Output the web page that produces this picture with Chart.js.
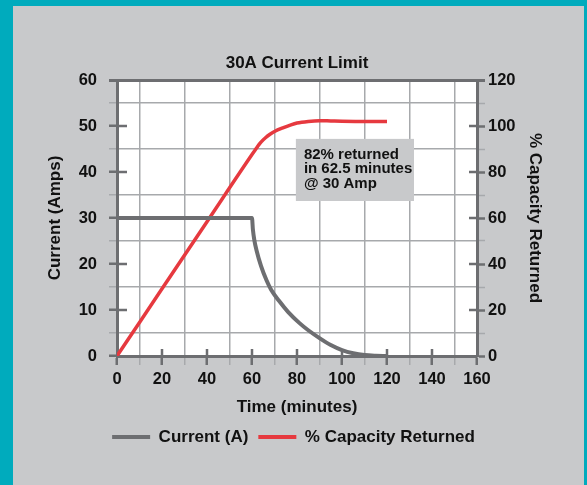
<!DOCTYPE html>
<html>
<head>
<meta charset="utf-8">
<script src="https://cdn.jsdelivr.net/npm/chart.js@4.4.1/dist/chart.umd.min.js"></script>
<style>
  html, body { margin: 0; padding: 0; width: 587px; height: 485px; overflow: hidden; background: #00abbd; }
  #panel { position: absolute; left: 13px; top: 6px; width: 571px; height: 479px; background: #c8c9cb; }
  #c { position: absolute; left: 0; top: 0; }
</style>
</head>
<body>
<div id="panel"></div>
<canvas id="c" width="587" height="485"></canvas>
<script>
// ---- Data ----
const chartTitle = '30A Current Limit';
const xTitle = 'Time (minutes)';
const yLeftTitle = 'Current (Amps)';
const yRightTitle = '% Capacity Returned';
const seriesNames = ['Current (A)', '% Capacity Returned'];

const currentTime = [0, 60, 60.4, 61, 62, 64, 66.5, 68.5, 72, 76, 81, 85, 90, 95, 100, 105, 110, 115, 120];
const currentAmps = [30, 30, 27.5, 25.3, 23, 19.6, 16.4, 14.4, 12, 9.6, 7.2, 5.6, 3.9, 2.4, 1.3, 0.6, 0.2, 0.05, 0];

const capTime = [0, 20, 40, 60, 62, 63, 64, 66, 68, 70, 74, 77, 80, 85, 90, 95, 100, 110, 120];
const capPct  = [0, 29.2, 58.4, 87.6, 90.4, 91.8, 93, 94.9, 96.4, 97.6, 99.3, 100.4, 101.3, 102, 102.3, 102.2, 102.1, 102, 102];

const noteLines = ['82% returned', 'in 62.5 minutes', '@ 30 Amp'];
const noteBox = { xMin: 79.5, xMax: 132, yMin: 33.7, yMax: 47.2 };

// ---- Styles ----
const DARK = '#6d6e71';
const LIGHT = '#a7a9ac';
const RED = '#e6393f';
const TEXT = '#111111';
const FAM = '"Liberation Sans", Arial, Helvetica, sans-serif';
const NONE = 'rgba(0,0,0,0)';

const zip = (xs, ys) => xs.map((x, i) => ({ x: x, y: ys[i] }));

const bgPlugin = {
  id: 'bg',
  beforeDraw(chart) {
    const { ctx, chartArea: a } = chart;
    ctx.save();
    ctx.fillStyle = '#ffffff';
    ctx.fillRect(a.left, a.top, a.right - a.left, a.bottom - a.top);
    ctx.restore();
  }
};

const innerTicks = {
  id: 'innerTicks',
  beforeDatasetsDraw(chart) {
    const { ctx, chartArea: a, scales } = chart;
    ctx.save();
    ctx.strokeStyle = DARK;
    ctx.lineWidth = 2.5;
    ctx.beginPath();
    scales.x.ticks.forEach(t => {
      if (t.value % 20 === 0 && t.value > 0 && t.value < 160) {
        const px = scales.x.getPixelForValue(t.value);
        ctx.moveTo(px, a.bottom); ctx.lineTo(px, a.bottom - 7);
      }
    });
    scales.y.ticks.forEach(t => {
      if (t.value % 10 === 0 && t.value > 0 && t.value < 60) {
        const py = scales.y.getPixelForValue(t.value);
        ctx.moveTo(a.left, py); ctx.lineTo(a.left + 10, py);
      }
    });
    scales.y1.ticks.forEach(t => {
      if (t.value % 20 === 0 && t.value > 0 && t.value < 120) {
        const py = scales.y1.getPixelForValue(t.value);
        ctx.moveTo(a.right, py); ctx.lineTo(a.right - 8, py);
      }
    });
    ctx.stroke();
    ctx.restore();
  }
};

const notePlugin = {
  id: 'note',
  afterDatasetsDraw(chart) {
    const { ctx, scales } = chart;
    const l = scales.x.getPixelForValue(noteBox.xMin);
    const r = scales.x.getPixelForValue(noteBox.xMax);
    const t = scales.y.getPixelForValue(noteBox.yMax);
    const b = scales.y.getPixelForValue(noteBox.yMin);
    ctx.save();
    ctx.fillStyle = '#c8c9cb';
    ctx.fillRect(l, t, r - l, b - t);
    ctx.fillStyle = TEXT;
    ctx.font = 'bold 15px ' + FAM;
    ctx.textBaseline = 'middle';
    ctx.textAlign = 'left';
    noteLines.forEach((s, i) => ctx.fillText(s, l + 8, t + 15.5 + i * 14.5));
    ctx.restore();
  }
};

new Chart(document.getElementById('c'), {
  type: 'line',
  data: {
    datasets: [
      {
        label: seriesNames[0],
        data: zip(currentTime, currentAmps),
        yAxisID: 'y',
        borderColor: DARK,
        backgroundColor: DARK,
        borderWidth: 4,
        pointRadius: 0,
        cubicInterpolationMode: 'monotone'
      },
      {
        label: seriesNames[1],
        data: zip(capTime, capPct),
        yAxisID: 'y1',
        borderColor: RED,
        backgroundColor: RED,
        borderWidth: 3.5,
        pointRadius: 0,
        cubicInterpolationMode: 'monotone'
      }
    ]
  },
  options: {
    responsive: false,
    animation: false,
    layout: { padding: { left: 0, right: 0, top: 0, bottom: 29.5 } },
    plugins: {
      tooltip: { enabled: false },
      title: {
        display: true,
        text: chartTitle,
        fullSize: false,
        color: TEXT,
        font: { family: FAM, size: 17, weight: 'bold' },
        padding: { top: 52.8, bottom: 6.8 }
      },
      legend: {
        position: 'bottom',
        labels: {
          color: TEXT,
          font: { family: FAM, size: 17, weight: 'bold' },
          boxWidth: 38,
          boxHeight: 4,
          padding: 10,
          generateLabels(chart) {
            const items = Chart.defaults.plugins.legend.labels.generateLabels(chart);
            items.forEach(it => { it.lineWidth = 0; });
            return items;
          }
        }
      }
    },
    scales: {
      x: {
        type: 'linear',
        min: 0, max: 160,
        afterFit(s) { s.height = 62.5; },
        ticks: {
          stepSize: 10,
          autoSkip: false,
          maxRotation: 0,
          padding: 5,
          color: TEXT,
          font: { family: FAM, size: 16.5, weight: 'bold' },
          callback: v => (v % 20 === 0 ? String(v) : '')
        },
        grid: {
          color: c => (c.tick && c.tick.value % 20 === 10 ? LIGHT : NONE),
          lineWidth: 1.5,
          tickColor: c => (c.tick && c.tick.value % 20 === 10 ? LIGHT : DARK),
          tickWidth: c => (c.tick && c.tick.value % 20 === 10 ? 1.5 : 2.5),
          tickLength: 9
        },
        border: { color: DARK, width: 3 },
        title: {
          display: true,
          text: xTitle,
          color: TEXT,
          font: { family: FAM, size: 17, weight: 'bold' },
          padding: { top: 0, bottom: 1 }
        }
      },
      y: {
        type: 'linear',
        position: 'left',
        min: 0, max: 60,
        afterFit(s) { s.width = 117; },
        ticks: {
          stepSize: 5,
          autoSkip: false,
          padding: 12,
          color: TEXT,
          font: { family: FAM, size: 16.5, weight: 'bold' },
          callback: v => (v % 10 === 0 ? String(v) : '')
        },
        grid: {
          color: c => (c.tick && c.tick.value % 10 === 5 ? LIGHT : (c.tick && c.tick.value === 60 ? DARK : NONE)),
          lineWidth: c => (c.tick && c.tick.value === 60 ? 3 : 1.5),
          tickColor: c => (c.tick && c.tick.value % 10 === 5 ? LIGHT : DARK),
          tickWidth: c => (c.tick && c.tick.value % 10 === 5 ? 1.5 : (c.tick && c.tick.value === 60 ? 3 : 2.5)),
          tickLength: 8
        },
        border: { color: DARK, width: 3 },
        title: {
          display: true,
          text: yLeftTitle,
          color: TEXT,
          font: { family: FAM, size: 17, weight: 'bold' },
          padding: { top: 44.8, bottom: 0 }
        }
      },
      y1: {
        type: 'linear',
        position: 'right',
        min: 0, max: 120,
        afterFit(s) { s.width = 110; },
        ticks: {
          stepSize: 10,
          autoSkip: false,
          padding: 3,
          color: TEXT,
          font: { family: FAM, size: 16.5, weight: 'bold' },
          callback: v => (v % 20 === 0 ? String(v) : '')
        },
        grid: {
          drawOnChartArea: false,
          tickColor: c => (c.tick && c.tick.value % 20 === 10 ? LIGHT : DARK),
          tickWidth: c => (c.tick && c.tick.value % 20 === 10 ? 1.5 : (c.tick && c.tick.value === 120 ? 3 : 2.5)),
          tickLength: 8
        },
        border: { color: DARK, width: 3 },
        title: {
          display: true,
          text: yRightTitle,
          color: TEXT,
          font: { family: FAM, size: 17, weight: 'bold' },
          padding: { top: 41.8, bottom: 0 }
        }
      }
    }
  },
  plugins: [bgPlugin, innerTicks, notePlugin]
});
</script>
</body>
</html>
